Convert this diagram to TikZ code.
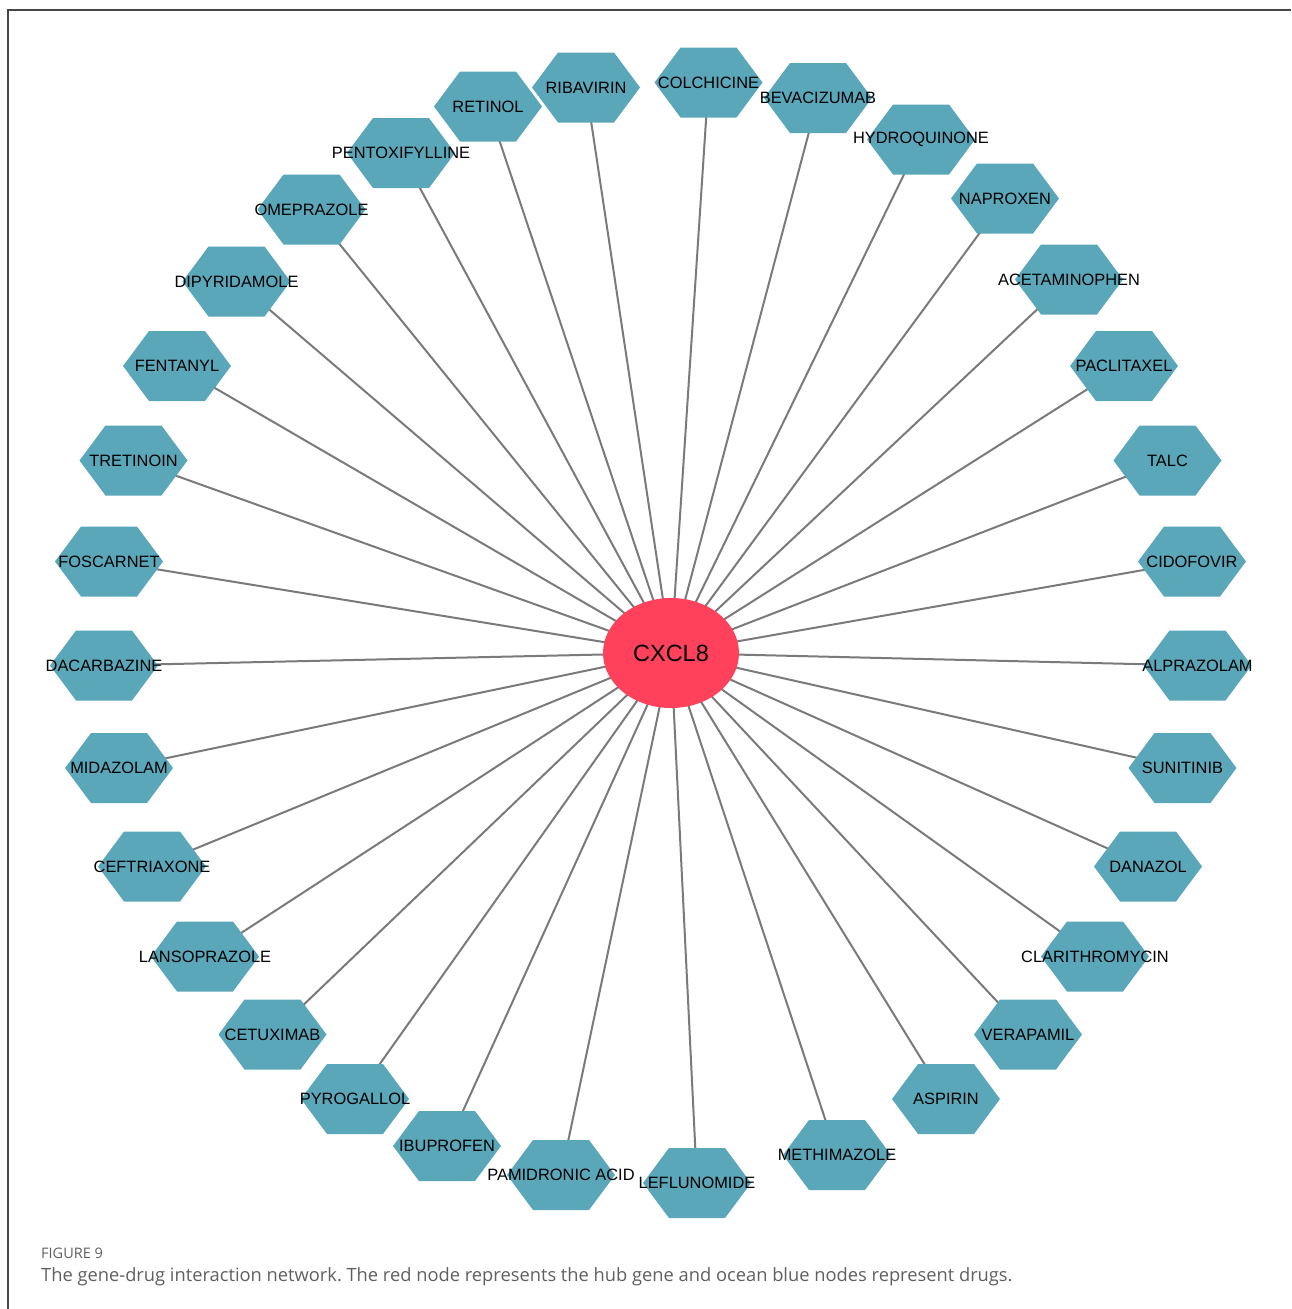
\documentclass[tikz,border=0pt]{standalone}
\usepackage{fontspec}
\setmainfont{Liberation Sans}
\newfontfamily\capfont{Open Sans}
\usepackage{tikz}
\usetikzlibrary{shapes.geometric,backgrounds}

\definecolor{drugblue}{RGB}{91,167,186}
\definecolor{genered}{RGB}{255,65,92}
\definecolor{edgegray}{RGB}{122,122,122}
\definecolor{framegray}{RGB}{70,70,70}
\definecolor{capgray}{RGB}{95,95,95}
\newcommand{\dname}[1]{\makebox[0pt]{#1}}
\frenchspacing

\begin{document}
\begin{tikzpicture}[
    x=1pt, y=-1pt,
    drug/.style={minimum width=108pt, minimum height=70pt, inner sep=0pt, font=\fontsize{16.4}{18}\selectfont,
      path picture={\fill[drugblue] (path picture bounding box.west) -- ++(26,-35) -- ++(56,0) -- ++(26,35) -- ++(-26,35) -- ++(-56,0) -- cycle;}},
    hub/.style={ellipse, fill=genered, minimum width=136pt, minimum height=110pt, inner sep=0pt, font=\fontsize{23.5}{26}\selectfont},
    edge/.style={draw=edgegray, line width=2pt},
    frameline/.style={draw=framegray, line width=2pt},
    caption/.style={anchor=west, inner sep=0pt, text=capgray}
  ]
    \useasboundingbox (0,0) rectangle (1291,1309);
    \draw[frameline] (8,1309) -- (8,10) -- (1291,10);

    \node[hub] (cxcl8) at (671,653) {CXCL8};

    \node[drug] (colchicine) at (708.5,82.5) {\dname{COLCHICINE}};
    \node[drug] (bevacizumab) at (818,98) {\dname{BEVACIZUMAB}};
    \node[drug] (hydroquinone) at (921,139.5) {\dname{HYDROQUINONE}};
    \node[drug] (naproxen) at (1005,198.5) {\dname{NAPROXEN}};
    \node[drug] (acetaminophen) at (1069,279.5) {\dname{ACETAMINOPHEN}};
    \node[drug] (paclitaxel) at (1124,366) {\dname{PACLITAXEL}};
    \node[drug] (talc) at (1167.5,460.5) {\dname{TALC}};
    \node[drug] (cidofovir) at (1192,561.5) {\dname{CIDOFOVIR}};
    \node[drug] (alprazolam) at (1197.5,665.5) {\dname{ALPRAZOLAM}};
    \node[drug] (sunitinib) at (1182.5,768) {\dname{SUNITINIB}};
    \node[drug] (danazol) at (1148,866.5) {\dname{DANAZOL}};
    \node[drug] (clarithromycin) at (1095,956.5) {\dname{CLARITHROMYCIN}};
    \node[drug] (verapamil) at (1028,1034.5) {\dname{VERAPAMIL}};
    \node[drug] (aspirin) at (946,1099) {\dname{ASPIRIN}};
    \node[drug] (methimazole) at (837,1155) {\dname{METHIMAZOLE}};
    \node[drug] (leflunomide) at (697,1183) {\dname{LEFLUNOMIDE}};
    \node[drug] (pamidronic) at (561,1175) {\dname{PAMIDRONIC ACID}};
    \node[drug] (ibuprofen) at (447,1146) {\dname{IBUPROFEN}};
    \node[drug] (pyrogallol) at (355,1099) {\dname{PYROGALLOL}};
    \node[drug] (cetuximab) at (272.5,1034.5) {\dname{CETUXIMAB}};
    \node[drug] (lansoprazole) at (205,956.5) {\dname{LANSOPRAZOLE}};
    \node[drug] (ceftriaxone) at (152,866.5) {\dname{CEFTRIAXONE}};
    \node[drug] (midazolam) at (119,768) {\dname{MIDAZOLAM}};
    \node[drug] (dacarbazine) at (104,665.5) {\dname{DACARBAZINE}};
    \node[drug] (foscarnet) at (109,561.5) {\dname{FOSCARNET}};
    \node[drug] (tretinoin) at (133.5,460.5) {\dname{TRETINOIN}};
    \node[drug] (fentanyl) at (177,366) {\dname{FENTANYL}};
    \node[drug] (dipyridamole) at (236.5,281.5) {\dname{DIPYRIDAMOLE}};
    \node[drug] (omeprazole) at (311.5,209.5) {\dname{OMEPRAZOLE}};
    \node[drug] (pentoxifylline) at (401,153) {\dname{PENTOXIFYLLINE}};
    \node[drug] (retinol) at (488,106.5) {\dname{RETINOL}};
    \node[drug] (ribavirin) at (586,87.5) {\dname{RIBAVIRIN}};

    \begin{scope}[on background layer]
      \foreach \d in {colchicine,bevacizumab,hydroquinone,naproxen,acetaminophen,paclitaxel,talc,cidofovir,
          alprazolam,sunitinib,danazol,clarithromycin,verapamil,aspirin,methimazole,leflunomide,pamidronic,
          ibuprofen,pyrogallol,cetuximab,lansoprazole,ceftriaxone,midazolam,dacarbazine,foscarnet,tretinoin,
          fentanyl,dipyridamole,omeprazole,pentoxifylline,retinol,ribavirin}
        \draw[edge] (cxcl8.center) -- (\d.center);
    \end{scope}

    \node[caption, font=\capfont\fontsize{14.5}{16}\selectfont] (figno) at (41,1253) {FIGURE 9};
    \node[caption, font=\capfont\fontsize{18.3}{21}\selectfont] (captext) at (41,1277) {The gene-drug interaction network. The red node represents the hub gene and ocean blue nodes represent drugs.};
\end{tikzpicture}
\end{document}
